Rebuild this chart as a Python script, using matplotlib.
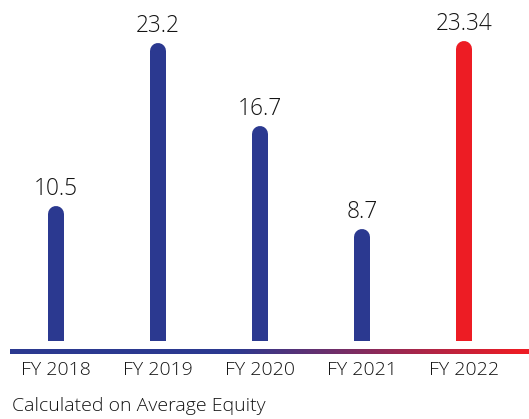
import matplotlib
matplotlib.use("Agg")
import matplotlib.pyplot as plt
import numpy as np
from matplotlib.colors import to_rgb

plt.rcParams['font.family'] = ['Open Sans', 'DejaVu Sans']

# data
years = ["FY 2018", "FY 2019", "FY 2020", "FY 2021", "FY 2022"]
values = [10.5, 23.2, 16.7, 8.7, 23.34]
labels = ["10.5", "23.2", "16.7", "8.7", "23.34"]
colors = ["#2b3990", "#2b3990", "#2b3990", "#2b3990", "#ed1c24"]

blue = "#2b3990"
red = "#ed1c24"

W, H = 529, 419
px_per_unit = 12.85
bottom_px = 341

fig = plt.figure(figsize=(W / 100, H / 100), dpi=100)
ax = fig.add_axes([0, (H - bottom_px) / H, 1, bottom_px / H])
ax.axis('off')
ax.set_ylim(0, bottom_px / px_per_unit)
ax.set_xlim(-56 / 102, (W - 56) / 102)

bar_px = 16
r_units = (bar_px / 2) / px_per_unit
x = np.arange(len(values))
for i, v in enumerate(values):
    ax.plot([x[i], x[i]], [-1, v - r_units], color=colors[i],
            lw=bar_px * 72 / 100, solid_capstyle='round')
    ax.annotate(labels[i], xy=(x[i], v), xytext=(0, 11), textcoords='offset pixels',
                ha='center', va='baseline', fontsize=16.3, color='#141414',
                fontweight='light')
    ax.annotate(years[i], xy=(x[i], 0), xytext=(0, -29), textcoords='offset pixels',
                ha='center', va='center', fontsize=14, color='#141414',
                fontweight='light', annotation_clip=False)

# gradient baseline
gax = fig.add_axes([10 / W, (H - 354) / H, (W - 10) / W, 5 / H])
gax.axis('off')
n = 500
pos = np.linspace(10, W, n)
t = np.clip((pos - 233) / (520 - 233), 0, 1)
c0 = np.array(to_rgb(blue))
c1 = np.array(to_rgb(red))
grad = (1 - t)[:, None] * c0 + t[:, None] * c1
gax.imshow(grad[None, :, :], aspect='auto', extent=(0, 1, 0, 1))

fig.text(12 / W, 1 - 406 / H, "Calculated on Average Equity", ha='left', va='center',
         fontsize=14, color='#141414', fontweight='light')

fig.savefig("out.png", dpi=100)
